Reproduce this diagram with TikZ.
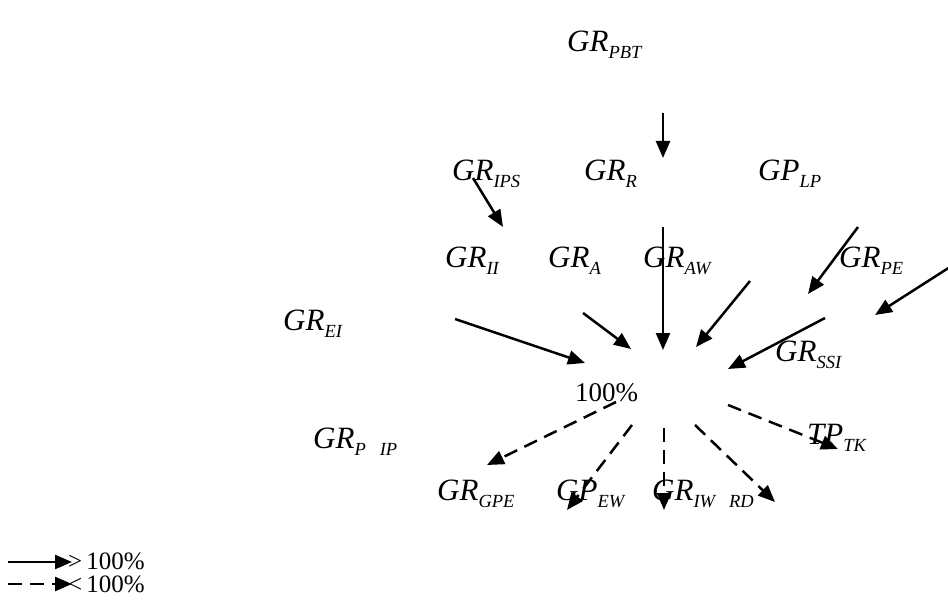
\documentclass[tikz,border=0pt]{standalone}
\usepackage{fontspec}
\setmainfont{Liberation Serif}
\usetikzlibrary{arrows.meta}

% italic quantity with an italic subscript
\newcommand{\qlab}[2]{{\fontsize{31}{31}\selectfont\itshape #1}\lower7pt\hbox{\fontsize{18.5}{18.5}\selectfont\itshape #2}}
\newcommand{\pct}[1]{{\fontsize{27}{27}\selectfont #1}}

\tikzset{
  lab/.style={anchor=base west, inner sep=0pt},
  keytext/.style={anchor=base west, inner sep=0pt, font=\fontsize{25}{25}\selectfont},
  flow/.style={line width=2.5pt, -{Triangle[length=17pt,width=14pt]}},
  outflow/.style={flow, dash pattern=on 14pt off 8pt}
}

\begin{document}
\begin{tikzpicture}[x=1pt,y=-1pt]
\useasboundingbox (0,0) rectangle (948,604);

% quantity labels
\node[lab] (pbt)  at (567,52)  {\qlab{GR}{PBT}};
\node[lab] (ips)  at (452,181) {\qlab{GR}{IPS}};
\node[lab] (rr)   at (584,181) {\qlab{GR}{R}};
\node[lab] (lp)   at (758,181) {\qlab{GP}{LP}};
\node[lab] (ii)   at (445,268) {\qlab{GR}{II}};
\node[lab] (aa)   at (548,268) {\qlab{GR}{A}};
\node[lab] (aw)   at (643,268) {\qlab{GR}{AW}};
\node[lab] (pe)   at (839,267) {\qlab{GR}{PE}};
\node[lab] (ei)   at (283,330) {\qlab{GR}{EI}};
\node[lab] (ssi)  at (775,361) {\qlab{GR}{SSI}};
\node[lab] (pip)  at (313,448) {\qlab{GR}{P\hspace{14pt}IP}};
\node[lab] (tk)   at (807,444) {\qlab{TP}{TK}};
\node[lab] (gpe)  at (437,500) {\qlab{GR}{GPE}};
\node[lab] (ew)   at (556,500) {\qlab{GP}{EW}};
\node[lab] (iwrd) at (652,500) {\qlab{GR}{IW\hspace{14pt}RD}};
\node[lab] (hub)  at (575,401) {\pct{100\%}};

% arrow end points
\coordinate (s1) at (663,113); \coordinate (e1) at (663,158);
\coordinate (s2) at (473,178); \coordinate (e2) at (503,227);
\coordinate (s3) at (663,227); \coordinate (e3) at (663,350);
\coordinate (s4) at (858,227); \coordinate (e4) at (808,294);
\coordinate (s5) at (950,267); \coordinate (e5) at (875,315);
\coordinate (s6) at (750,281); \coordinate (e6) at (696,347);
\coordinate (s7) at (455,319); \coordinate (e7) at (585,363);
\coordinate (s8) at (583,313); \coordinate (e8) at (631,349);
\coordinate (s9) at (825,318); \coordinate (e9) at (728,369);

\coordinate (o1) at (616,402); \coordinate (f1) at (487,465);
\coordinate (o2) at (632,425); \coordinate (f2) at (567,510);
\coordinate (o3) at (664,428); \coordinate (f3) at (664,510);
\coordinate (o4) at (695,425); \coordinate (f4) at (775,502);
\coordinate (o5) at (728,405); \coordinate (f5) at (838,449);

% incoming flows
\foreach \i in {1,...,9} \draw[flow] (s\i) -- (e\i);
% outgoing flows
\foreach \i in {1,...,5} \draw[outflow] (o\i) -- (f\i);

% legend
\coordinate (la) at (8,562);  \coordinate (lb) at (72,562);
\coordinate (lc) at (8,584);  \coordinate (ld) at (72,584);
\draw[flow] (la) -- (lb);
\draw[outflow] (lc) -- (ld);
\node[keytext] (key1) at (68,569) {>\,100\%};
\node[keytext] (key2) at (68,592) {<\,100\%};
\end{tikzpicture}
\end{document}
